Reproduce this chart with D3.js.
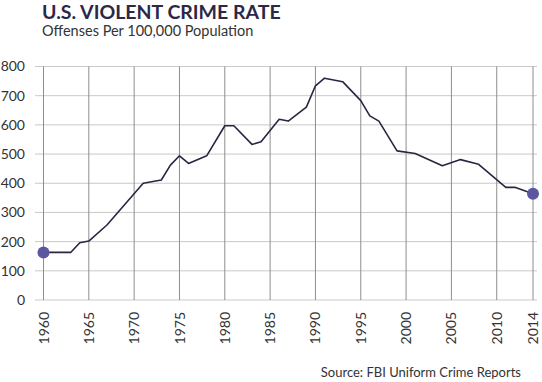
<!DOCTYPE html>
<html><head><meta charset="utf-8">
<script src="https://cdn.jsdelivr.net/npm/d3@7"></script>
<style>body{margin:0;background:#fff}svg{display:block}text{font-family:Lato,"Open Sans",sans-serif}</style>
</head><body>
<svg id="c" width="542" height="382"></svg>
<script>
const titleText = "U.S. VIOLENT CRIME RATE";
const subtitleText = "Offenses Per 100,000 Population";
const sourceText = "Source: FBI Uniform Crime Reports";
const years = [1960,1963,1964,1965,1967,1971,1973,1974,1975,1976,1978,1980,1981,1983,1984,1986,1987,1989,1990,1991,1993,1995,1996,1997,1999,2001,2004,2006,2008,2011,2012,2014];
const rates = [163,163,196,202,257,400,411,462,494,468,494,597,597,533,542,619,613,661,734,760,748,683,631,613,511,502,460,481,465,386,386,364];
const xTicks = [1960,1965,1970,1975,1980,1985,1990,1995,2000,2005,2010,2014];
const yTicks = [0,100,200,300,400,500,600,700,800];

const svg = d3.select("#c");
const x = d3.scaleLinear().domain([1960,2014]).range([43.5,533]);
const y = d3.scaleLinear().domain([0,800]).range([300,66.5]);

svg.append("text").attr("x",42).attr("y",19).attr("font-size",19.5).attr("font-weight","bold")
  .attr("fill","#2b2848").text(titleText);
svg.append("text").attr("x",42).attr("y",36).attr("font-size",14.5).attr("fill","#333").text(subtitleText);

// horizontal grid
svg.append("g").selectAll("line").data(yTicks).join("line")
  .attr("x1",35).attr("x2",537).attr("y1",d=>y(d)).attr("y2",d=>y(d))
  .attr("stroke","#c9c9c9").attr("stroke-width",1);
// vertical grid
svg.append("g").selectAll("line").data(xTicks).join("line")
  .attr("x1",d=>x(d)).attr("x2",d=>x(d)).attr("y1",y(800)).attr("y2",y(0))
  .attr("stroke","#8e8e8e").attr("stroke-width",1);

// y labels
svg.append("g").selectAll("text").data(yTicks).join("text")
  .attr("x",25).attr("y",d=>y(d)).attr("dy","0.35em").attr("text-anchor","end")
  .attr("font-size",14).attr("fill","#333").text(d=>d);
// x labels
svg.append("g").selectAll("text").data(xTicks).join("text")
  .attr("transform",d=>`translate(${x(d)},312) rotate(-90)`).attr("dy","0.36em").attr("text-anchor","end")
  .attr("font-size",14).attr("fill","#333").text(d=>d);

const line = d3.line().x((d,i)=>x(years[i])).y(d=>y(d));
svg.append("path").datum(rates).attr("d",line).attr("fill","none")
  .attr("stroke","#2a2540").attr("stroke-width",1.6).attr("stroke-linejoin","round");

const ends = [0, years.length-1];
svg.append("g").selectAll("circle").data(ends).join("circle")
  .attr("cx",i=>x(years[i])).attr("cy",i=>y(rates[i])).attr("r",6).attr("fill","#5a57a0");

svg.append("text").attr("x",521).attr("y",377).attr("text-anchor","end")
  .attr("font-size",13).attr("fill","#333").text(sourceText);
</script>
</body></html>
